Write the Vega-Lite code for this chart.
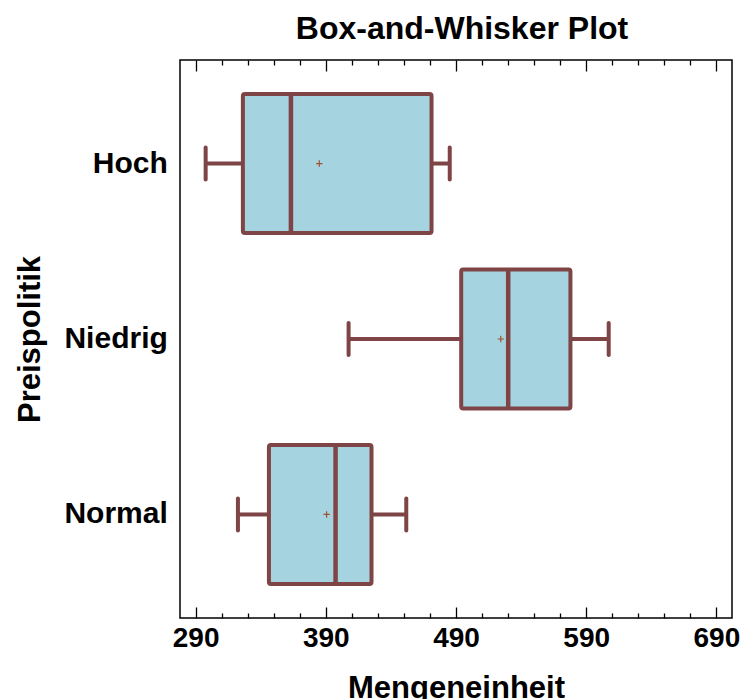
{
  "$schema": "https://vega.github.io/schema/vega-lite/v6.json",
  "autosize": "none",
  "padding": {"left": 180, "top": 60, "right": 10, "bottom": 81},
  "width": 552,
  "height": 558,
  "background": "white",
  "title": {"text": "Box-and-Whisker Plot", "font": "Liberation Sans", "fontSize": 32, "fontWeight": "bold", "color": "black", "baseline": "alphabetic", "offset": -12, "dx": 6, "anchor": "middle"},
  "config": {
    "view": {"stroke": "black", "strokeWidth": 1.5},
    "axis": {"labelFont": "Liberation Sans", "titleFont": "Liberation Sans", "labelColor": "black", "titleColor": "black", "labelFontWeight": "bold", "titleFontWeight": "bold", "grid": false, "domain": false, "tickColor": "black"}
  },
  "data": {"values": [
    {"cat": "Hoch", "lower": 297.7, "q1": 326.3, "median": 363.2, "mean": 385.0, "q3": 471.2, "upper": 485.2},
    {"cat": "Niedrig", "lower": 407.5, "q1": 494.0, "median": 530.1, "mean": 524.4, "q3": 577.9, "upper": 607.3},
    {"cat": "Normal", "lower": 322.5, "q1": 346.3, "median": 397.5, "mean": 390.6, "q3": 425.1, "upper": 451.8}
  ]},
  "encoding": {
    "y": {"field": "cat", "type": "nominal", "sort": ["Hoch", "Niedrig", "Normal"],
      "scale": {"type": "band", "domain": ["Hoch", "Niedrig", "Normal"], "paddingInner": 0, "paddingOuter": 0.09},
      "axis": {"ticks": false, "labelFontSize": 30, "labelPadding": 12.7, "title": "Preispolitik", "titleFontSize": 31, "titleX": -141, "titleY": 279, "titleBaseline": "alphabetic", "titleAngle": -90, "titleAlign": "center"}}
  },
  "layer": [
    {
      "mark": {"type": "rule", "stroke": "#7F4445", "strokeWidth": 4},
      "encoding": {
        "x": {"field": "lower", "type": "quantitative", "scale": {"domain": [278, 702], "nice": false, "zero": false},
          "axis": {"orient": "top", "values": [290,310,330,350,370,390,410,430,450,470,490,510,530,550,570,590,610,630,650,670,690], "labels": false, "title": null, "tickWidth": 1.3, "tickSize": {"condition": {"test": "datum.value % 100 === 90", "value": -11}, "value": -5}}},
        "x2": {"field": "q1"}
      }
    },
    {
      "mark": {"type": "rule", "stroke": "#7F4445", "strokeWidth": 4},
      "encoding": {
        "x": {"field": "q3", "type": "quantitative",
          "axis": {"orient": "bottom", "values": [290,310,330,350,370,390,410,430,450,470,490,510,530,550,570,590,610,630,650,670,690], "tickWidth": 1.3, "tickSize": {"condition": {"test": "datum.value % 100 === 90", "value": -11}, "value": -5}, "labelExpr": "datum.value % 100 === 90 ? datum.label : ''", "labelFontSize": 28, "labelBaseline": "alphabetic", "labelPadding": 39.7, "labelOverlap": false, "labelFlush": false, "labelBound": false, "title": "Mengeneinheit", "titleFontSize": 31, "titleBaseline": "alphabetic", "titleY": 79.3}},
        "x2": {"field": "upper"}
      }
    },
    {
      "mark": {"type": "tick", "color": "#7F4445", "size": 36, "thickness": 4, "cornerRadius": 2, "opacity": 1},
      "encoding": {"x": {"field": "lower", "type": "quantitative", "axis": null}}
    },
    {
      "mark": {"type": "tick", "color": "#7F4445", "size": 36, "thickness": 4, "cornerRadius": 2, "opacity": 1},
      "encoding": {"x": {"field": "upper", "type": "quantitative", "axis": null}}
    },
    {
      "mark": {"type": "bar", "size": 139, "fill": "#A5D3E0", "stroke": "#7F4445", "strokeWidth": 4, "cornerRadius": 2, "strokeJoin": "round", "opacity": 1},
      "encoding": {"x": {"field": "q1", "type": "quantitative", "axis": null}, "x2": {"field": "q3"}}
    },
    {
      "mark": {"type": "tick", "color": "#7F4445", "size": 139, "thickness": 4.5, "opacity": 1},
      "encoding": {"x": {"field": "median", "type": "quantitative", "axis": null}}
    },
    {
      "mark": {"type": "point", "shape": "M-1,0L1,0M0,-1L0,1", "size": 40, "filled": false, "stroke": "#A0522D", "strokeWidth": 1.2, "opacity": 1},
      "encoding": {"x": {"field": "mean", "type": "quantitative", "axis": null}}
    }
  ],
  "resolve": {"axis": {"x": "independent"}}
}
